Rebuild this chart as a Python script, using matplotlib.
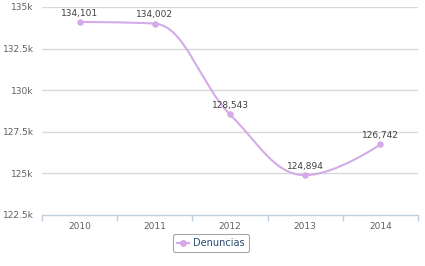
import matplotlib.pyplot as plt
from matplotlib.path import Path
from matplotlib.patches import PathPatch
from matplotlib.lines import Line2D
import numpy as np

years = ['2010', '2011', '2012', '2013', '2014']
denuncias = [134101, 134002, 128543, 124894, 126742]
y_ticks = [122500, 125000, 127500, 130000, 132500, 135000]
y_labels = ['122.5k', '125k', '127.5k', '130k', '132.5k', '135k']

line_color = '#d4abe8'
text_color = '#606060'


def spline_path(xs, ys, smoothing=1.5):
    # highcharts-style spline control points
    n = len(xs)
    left = [(x, y) for x, y in zip(xs, ys)]
    right = [(x, y) for x, y in zip(xs, ys)]
    d = smoothing + 1
    for i in range(1, n - 1):
        px, py = xs[i], ys[i]
        lx, ly = xs[i - 1], ys[i - 1]
        nx, ny = xs[i + 1], ys[i + 1]
        lcx = (smoothing * px + lx) / d
        lcy = (smoothing * py + ly) / d
        rcx = (smoothing * px + nx) / d
        rcy = (smoothing * py + ny) / d
        corr = (rcy - lcy) * (rcx - px) / (rcx - lcx) + py - rcy
        lcy += corr
        rcy += corr
        if lcy > ly and lcy > py:
            lcy = max(ly, py)
            rcy = 2 * py - lcy
        elif lcy < ly and lcy < py:
            lcy = min(ly, py)
            rcy = 2 * py - lcy
        if rcy > ny and rcy > py:
            rcy = max(ny, py)
            lcy = 2 * py - rcy
        elif rcy < ny and rcy < py:
            rcy = min(ny, py)
            lcy = 2 * py - rcy
        left[i] = (lcx, lcy)
        right[i] = (rcx, rcy)
    verts = [(xs[0], ys[0])]
    codes = [Path.MOVETO]
    for i in range(1, n):
        verts += [right[i - 1], left[i], (xs[i], ys[i])]
        codes += [Path.CURVE4] * 3
    return Path(verts, codes)


fig = plt.figure(figsize=(4.25, 2.66), dpi=100)
ax = fig.add_axes([42 / 425, 1 - 215 / 266, 376 / 425, 208 / 266])

x = np.arange(len(years))
ax.set_xlim(-0.5, len(years) - 0.5)
ax.set_ylim(y_ticks[0], y_ticks[-1])

for t in y_ticks[1:]:
    ax.axhline(t, color='#d8d8d8', lw=1, zorder=1)

ax.add_patch(PathPatch(spline_path(list(x), denuncias), fill=False,
                       edgecolor=line_color, lw=1.5, zorder=3))
ax.scatter(x, denuncias, s=22, color=line_color, zorder=4, linewidths=0)

for xi, v in zip(x, denuncias):
    ax.annotate(f'{v:,}', (xi, v), xytext=(0, 3), textcoords='offset points',
                ha='center', va='bottom', fontsize=6.5, color='#404040', zorder=5)

ax.set_yticks(y_ticks)
ax.set_yticklabels(y_labels)
ax.set_xticks(x)
ax.set_xticklabels(years)
ax.set_xticks(np.arange(-0.5, len(years)), minor=True)
ax.tick_params(axis='y', length=0, labelsize=6.5, labelcolor=text_color, pad=6)
ax.tick_params(axis='x', which='major', length=0, labelsize=6.5,
               labelcolor=text_color, pad=5)
ax.tick_params(axis='x', which='minor', length=4, color='#c0d0e0', width=1)

for s in ['top', 'right', 'left']:
    ax.spines[s].set_visible(False)
ax.spines['bottom'].set_color('#c0d0e0')
ax.spines['bottom'].set_linewidth(1)

handle = Line2D([0], [0], color=line_color, marker='o', markersize=4, lw=1.5)
leg = fig.legend([handle], ['Denuncias'], loc='center', bbox_to_anchor=(211 / 425, 1 - 243 / 266),
                 fontsize=7, frameon=True, fancybox=True, handlelength=1.2,
                 borderpad=0.45, handletextpad=0.4)
leg.get_frame().set_edgecolor('#909090')
leg.get_frame().set_linewidth(0.8)
for t in leg.get_texts():
    t.set_color('#274b6d')

fig.savefig('out.png', dpi=100)
